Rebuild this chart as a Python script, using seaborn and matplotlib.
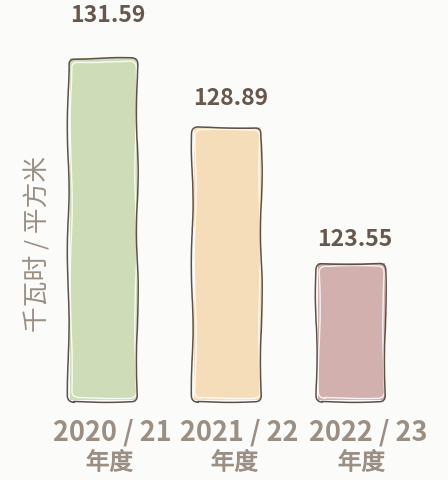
import matplotlib
matplotlib.use("Agg")
import matplotlib.pyplot as plt
import matplotlib.patheffects as pe
from matplotlib.patches import FancyBboxPatch
from matplotlib.transforms import IdentityTransform
import seaborn as sns
import pandas as pd

# Energy use per floor area by financial year
years = ["2020 / 21", "2021 / 22", "2022 / 23"]
values = [131.59, 128.89, 123.55]
bar_colors = ["#cfdcb8", "#f5ddb9", "#d1b0ad"]
ylabel = "千瓦时 / 平方米"
period = "年度"

BG = "#fbfbf9"
INK = "#5d514a"
VALUE_COLOR = "#67574c"
TICK_COLOR = "#9b8f84"
CJK = ["Noto Sans CJK SC", "DejaVu Sans"]

sns.set_theme(style="white")
plt.rcParams["font.family"] = CJK

df = pd.DataFrame({"year": years, "value": values})

W, H, DPI = 448, 480, 100
fig = plt.figure(figsize=(W / DPI, H / DPI), dpi=DPI, facecolor=BG)
ax = fig.add_axes([41.5 / W, 80 / H, 372 / W, 380 / H])
ax.set_facecolor(BG)

sns.barplot(data=df, x="year", y="value", hue="year", palette=bar_colors,
            legend=False, width=0.545, ax=ax, linewidth=0, saturation=1)

ax.set_ylim(118.18, 133.08)
ax.set_xlim(-0.5, 2.5)
for s in ax.spines.values():
    s.set_visible(False)
ax.set_yticks([])
ax.set_xticks(range(len(years)))
ax.set_xticklabels([])
ax.tick_params(axis="x", length=0)
ax.set_xlabel("")
ax.set_ylabel(ylabel, fontsize=18.5, color=TICK_COLOR)
ax.yaxis.set_label_coords(0.027, 0.41)

# Hand-drawn rounded outlines, built in pixel space around the visible part of each bar
value_pad = [42, 28, 24]
value_shift = [4, 3, 3]
year_shift = [9, 12, 17]
period_shift = [6, 7, 10]
ybase = ax.get_ylim()[0]
for i, p in enumerate(ax.patches):
    top = p.get_y() + p.get_height()
    bottom = max(p.get_y(), ybase)
    (px0, py0), (px1, py1) = ax.transData.transform(
        [(p.get_x(), bottom), (p.get_x() + p.get_width(), top)])
    outline = FancyBboxPatch((px0 - 1.5, py0 - 1.5), px1 - px0 + 1.5, py1 - py0 + 1.0,
                             boxstyle="round,pad=0,rounding_size=6",
                             transform=IdentityTransform(),
                             fill=False, edgecolor=INK, linewidth=1.1,
                             zorder=4, clip_on=False)
    outline.set_sketch_params(scale=0.9, length=160, randomness=3)
    fig.add_artist(outline)
    inner = FancyBboxPatch((px0 + 1.5, py0 + 2.5), px1 - px0 - 3.0, py1 - py0 - 6.0,
                           boxstyle="round,pad=0,rounding_size=6",
                           transform=IdentityTransform(),
                           fill=False, edgecolor="white", linewidth=1.0,
                           alpha=0.85, zorder=3, clip_on=False)
    inner.set_sketch_params(scale=1.0, length=200, randomness=3)
    fig.add_artist(inner)

    ax.annotate(f"{values[i]:.2f}", (p.get_x() + p.get_width() / 2, top),
                xytext=(value_shift[i], value_pad[i]), textcoords="offset pixels",
                ha="center", va="center", fontsize=16.5, fontweight="bold",
                color=VALUE_COLOR, annotation_clip=False)

# Category labels: year on top, period underneath
semibold = [pe.withStroke(linewidth=0.7, foreground=TICK_COLOR)]
for i, yr in enumerate(years):
    ax.annotate(yr, (i, 0), xycoords=("data", "axes fraction"),
                xytext=(year_shift[i], -33), textcoords="offset pixels",
                ha="center", va="center", fontsize=19.5, fontweight="bold",
                color=TICK_COLOR, annotation_clip=False)
    ax.annotate(period, (i, 0), xycoords=("data", "axes fraction"),
                xytext=(period_shift[i], -63), textcoords="offset pixels",
                ha="center", va="center", fontsize=17, fontweight="normal",
                color=TICK_COLOR, path_effects=semibold, annotation_clip=False)

fig.savefig("out.png", dpi=DPI, facecolor=BG)
